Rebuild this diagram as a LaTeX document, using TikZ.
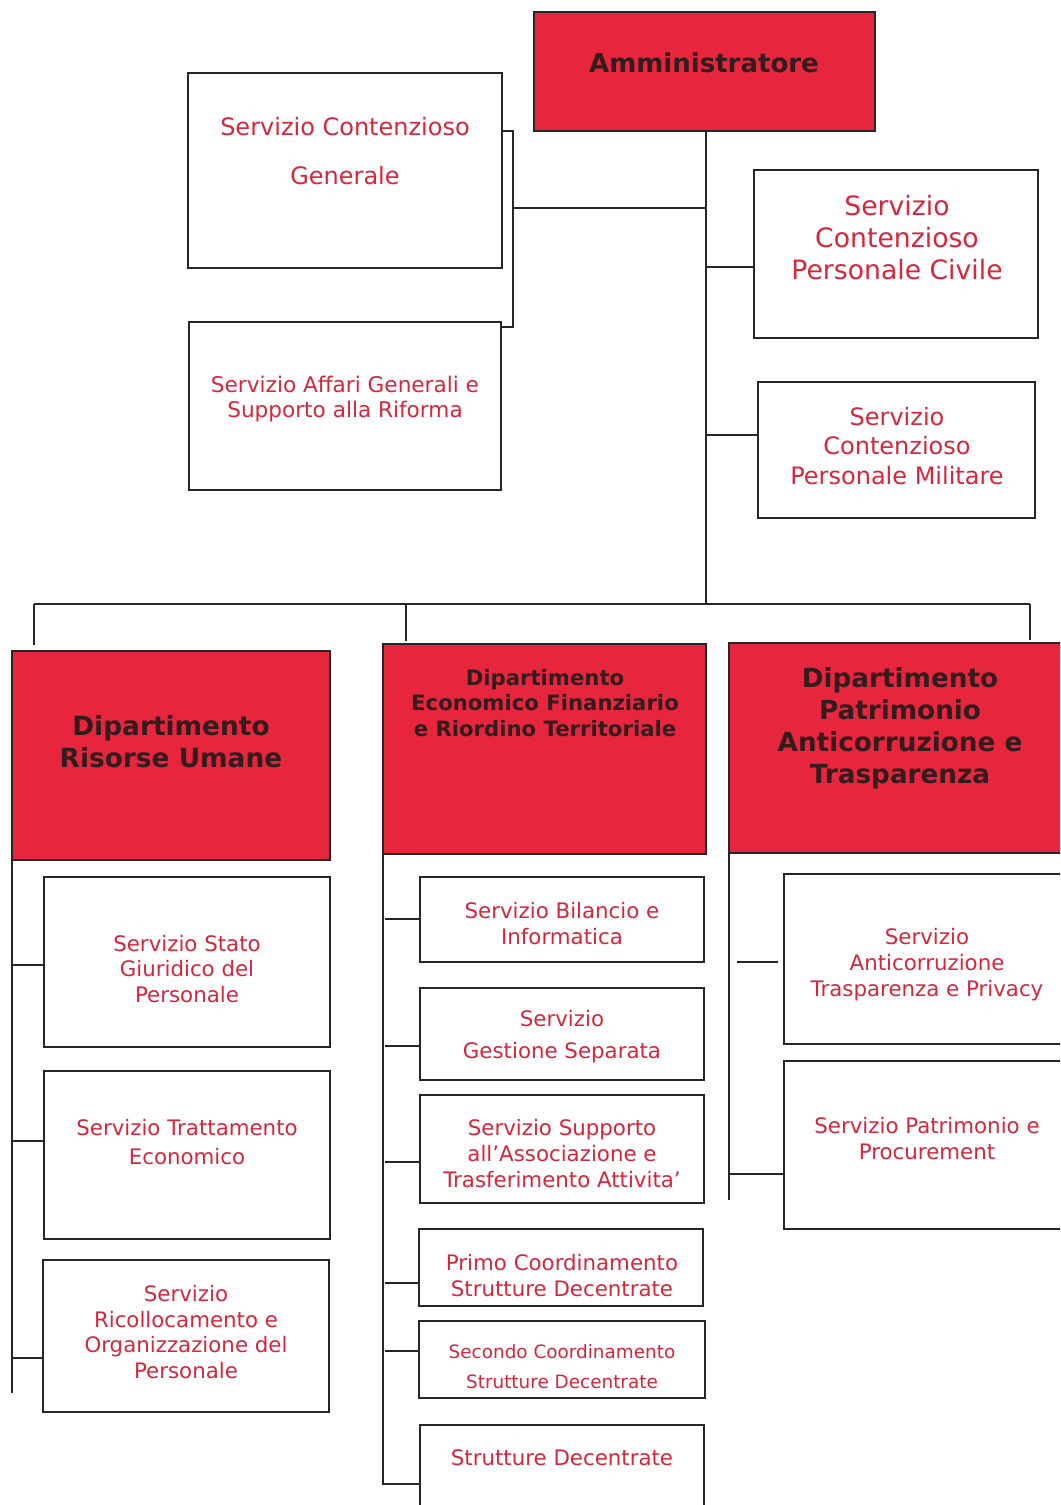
\documentclass[tikz,border=0pt]{standalone}
\usepackage{fontspec}
\setmainfont{DejaVu Sans}
\usetikzlibrary{fit}
\definecolor{boxred}{RGB}{231,38,61}
\definecolor{txtred}{RGB}{214,38,60}
\definecolor{darktxt}{RGB}{50,28,30}
\begin{document}
\begin{tikzpicture}[x=0.75pt,y=-0.75pt,
  sbox/.style={draw=black!85,line width=1.4pt,inner sep=0pt},
  dbox/.style={sbox,fill=boxred},
  stxt/.style={text=txtred,align=center,inner sep=0pt},
  dtxt/.style={text=darktxt,align=center,inner sep=0pt,font=\bfseries},
  conn/.style={draw=black!85,line width=1.4pt}]
\clip (0,0) rectangle (1060,1505);
\fill[white] (0,0) rectangle (1060,1505);
% top level
\node[dbox,fit={(534,12)(875,131)}] (adm) {};
\node[dtxt,font=\fontsize{19.5}{24}\selectfont\bfseries] (admt) at (704,63) {Amministratore};
\node[sbox,fit={(188,73)(502,268)}] (scg) {};
\node[stxt,font=\fontsize{18}{36.75}\selectfont] (scgt) at (345,151) {Servizio Contenzioso\\Generale};
\node[sbox,fit={(189,322)(501,490)}] (sag) {};
\node[stxt,font=\fontsize{16.2}{18.75}\selectfont] (sagt) at (345,399) {Servizio Affari Generali e\\Supporto alla Riforma};
\node[sbox,fit={(754,170)(1038,338)}] (spc) {};
\node[stxt,font=\fontsize{20}{24}\selectfont] (spct) at (897,238) {Servizio\\Contenzioso\\Personale Civile};
\node[sbox,fit={(758,382)(1035,518)}] (spm) {};
\node[stxt,font=\fontsize{18}{22}\selectfont] (spmt) at (897,446) {Servizio\\Contenzioso\\Personale Militare};
% trunk
\coordinate (tA) at (706,131);
\coordinate (bus) at (706,604);
\draw[conn] (tA) -- (bus);
\coordinate (br1) at (513,131);
\coordinate (br2) at (513,327);
\coordinate (brm) at (513,208);
\draw[conn] (scg.east |- br1) -- (br1) -- (br2) -- (sag.east |- br2);
\draw[conn] (brm) -- (brm -| tA);
\draw[conn] (706,267) -- (spc.west |- 0,267);
\draw[conn] (706,435) -- (spm.west |- 0,435);
% departments
\node[dbox,fit={(12,651)(330,860)}] (dru) {};
\node[dtxt,font=\fontsize{19.8}{24}\selectfont\bfseries] (drut) at (171,742) {Dipartimento\\Risorse Umane};
\node[dbox,fit={(383,644)(706,854)}] (def) {};
\node[dtxt,font=\fontsize{15.9}{19}\selectfont\bfseries] (deft) at (545,703) {Dipartimento\\Economico Finanziario\\e Riordino Territoriale};
\node[dbox,fit={(729,643)(1080,853)}] (dpa) {};
\node[dtxt,font=\fontsize{19.7}{24}\selectfont\bfseries] (dpat) at (900,728) {Dipartimento\\Patrimonio\\Anticorruzione e\\Trasparenza};
\coordinate (busL) at (34,604);
\coordinate (busM) at (406,604);
\coordinate (busR) at (1030,604);
\draw[conn] (busL) -- (busR);
\draw[conn] (busL) -- (34,645);
\draw[conn] (busM) -- (406,641);
\draw[conn] (busR) -- (1030,640);
% left column
\node[sbox,fit={(44,877)(330,1047)}] (ssg) {};
\node[stxt,font=\fontsize{16}{19}\selectfont] (ssgt) at (187,969) {Servizio Stato\\Giuridico del\\Personale};
\node[sbox,fit={(44,1071)(330,1239)}] (ste) {};
\node[stxt,font=\fontsize{16}{21.75}\selectfont] (stet) at (187,1142) {Servizio Trattamento\\Economico};
\node[sbox,fit={(43,1260)(329,1412)}] (sro) {};
\node[stxt,font=\fontsize{16}{19.25}\selectfont] (srot) at (186,1332) {Servizio\\Ricollocamento e\\Organizzazione del\\Personale};
\coordinate (lvT) at (12,860);
\coordinate (lvB) at (12,1393);
\draw[conn] (lvT) -- (lvB);
\draw[conn] (12,965) -- (ssg.west |- 0,965);
\draw[conn] (12,1141) -- (ste.west |- 0,1141);
\draw[conn] (12,1358) -- (sro.west |- 0,1358);
% middle column
\node[sbox,fit={(420,877)(704,962)}] (sbi) {};
\node[stxt,font=\fontsize{16}{19.5}\selectfont] (sbit) at (562,924) {Servizio Bilancio e\\Informatica};
\node[sbox,fit={(420,988)(704,1080)}] (sgs) {};
\node[stxt,font=\fontsize{16}{24}\selectfont] (sgst) at (562,1037) {Servizio\\Gestione Separata};
\node[sbox,fit={(420,1095)(704,1203)}] (ssu) {};
\node[stxt,font=\fontsize{16}{19.5}\selectfont] (ssut) at (562,1154) {Servizio Supporto\\all’Associazione e\\Trasferimento Attivita’};
\node[sbox,fit={(419,1229)(703,1306)}] (spr) {};
\node[stxt,font=\fontsize{16}{19.5}\selectfont] (sprt) at (562,1276) {Primo Coordinamento\\Strutture Decentrate};
\node[sbox,fit={(419,1321)(705,1398)}] (sse) {};
\node[stxt,font=\fontsize{13.8}{22.5}\selectfont] (sset) at (562,1367) {Secondo Coordinamento\\Strutture Decentrate};
\node[sbox,fit={(420,1425)(704,1520)}] (ssd) {};
\node[stxt,font=\fontsize{16}{19.5}\selectfont] (ssdt) at (562,1458) {Strutture Decentrate};
\coordinate (mvT) at (383,854);
\coordinate (mvB) at (383,1485);
\draw[conn] (mvT) -- (mvB);
\draw[conn] (385,919) -- (sbi.west |- 0,919);
\draw[conn] (385,1046) -- (sgs.west |- 0,1046);
\draw[conn] (385,1162) -- (ssu.west |- 0,1162);
\draw[conn] (385,1283) -- (spr.west |- 0,1283);
\draw[conn] (385,1351) -- (sse.west |- 0,1351);
\draw[conn] (383,1484) -- (ssd.west |- 0,1484);
% right column
\node[sbox,fit={(784,874)(1080,1044)}] (san) {};
\node[stxt,font=\fontsize{16}{19.5}\selectfont] (sant) at (927,965) {Servizio\\Anticorruzione\\Trasparenza e Privacy};
\node[sbox,fit={(784,1061)(1080,1229)}] (spp) {};
\node[stxt,font=\fontsize{16}{19.5}\selectfont] (sppt) at (927,1139) {Servizio Patrimonio e\\Procurement};
\coordinate (rvT) at (729,853);
\coordinate (rvB) at (729,1200);
\draw[conn] (rvT) -- (rvB);
\draw[conn] (737,962) -- (778,962);
\draw[conn] (729,1174) -- (spp.west |- 0,1174);
\end{tikzpicture}
\end{document}
